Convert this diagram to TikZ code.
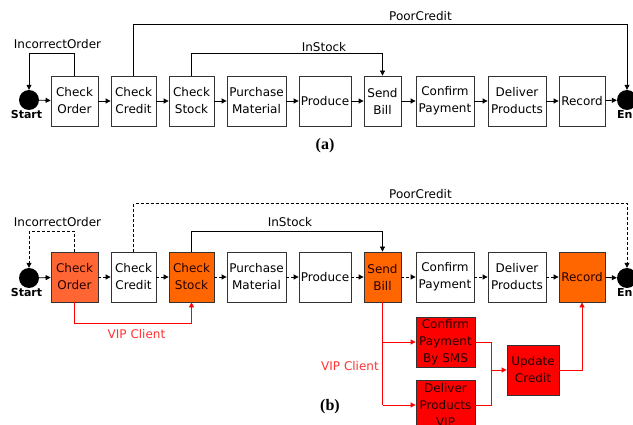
\documentclass[tikz,border=0pt]{standalone}
\usepackage{fontspec}
\setmainfont{DejaVu Sans}
\newfontfamily\serifbold{Liberation Serif}
\usetikzlibrary{arrows.meta}
\definecolor{boxline}{HTML}{333333}
\definecolor{tomatofill}{HTML}{FF6633}
\definecolor{orangefill}{HTML}{FF6600}
\definecolor{redfill}{HTML}{FF0000}
\definecolor{vipred}{HTML}{FF3333}
\begin{document}
\begin{tikzpicture}[x=1pt,y=-1pt,
  box/.style={draw=boxline, line width=0.8pt, minimum height=50pt, inner sep=0pt, align=center, font=\fontsize{12}{17}\selectfont},
  dot/.style={circle, fill=black, minimum size=20pt, inner sep=0pt},
  lbl/.style={font=\fontsize{12}{14}\selectfont, inner sep=0pt},
  endlbl/.style={font=\fontsize{11}{13}\selectfont\bfseries, inner sep=0pt},
  capt/.style={font=\fontsize{16}{18}\selectfont\serifbold\bfseries, inner sep=0pt},
  conn/.style={line width=0.8pt, -{Triangle[length=5pt,width=5pt]}},
  dconn/.style={conn, dash pattern=on 3pt off 2pt},
  line/.style={line width=0.8pt},
  dline/.style={line width=0.8pt, dash pattern=on 3pt off 2pt},
  rconn/.style={draw=red, line width=0.8pt, -{Triangle[length=5pt,width=5pt]}, red},
  rline/.style={draw=red, line width=0.8pt}
]
\useasboundingbox (0,0) rectangle (633,425);

%% ---------------- (a) ----------------
\node[dot] (sa) at (29,100) {};
\node[endlbl] (sal) at (26.5,114) {Start};
\node[dot] (ea) at (627,100) {};
\node[endlbl, anchor=west] (eal) at (617,114) {End};

\node[box, minimum width=47pt] (coa) at (74.5,101) {Check\\Order};
\node[box, minimum width=45pt] (cca) at (133.5,101) {Check\\Credit};
\node[box, minimum width=45pt] (csa) at (191.5,101) {Check\\Stock};
\node[box, minimum width=59pt] (pma) at (256.5,101) {Purchase\\Material};
\node[box, minimum width=52pt] (pra) at (325,101) {Produce};
\node[box, minimum width=37pt] (sba) at (382.5,101) {Send\\Bill};
\node[box, minimum width=58pt] (cpa) at (445,101) {Confirm\\Payment};
\node[box, minimum width=58pt] (dpa) at (517,101) {Deliver\\Products};
\node[box, minimum width=46pt] (rea) at (582,101) {Record};

\draw[conn] (sa) -- (coa);
\draw[conn] (coa) -- (cca);
\draw[conn] (cca) -- (csa);
\draw[conn] (csa) -- (pma);
\draw[conn] (pma) -- (pra);
\draw[conn] (pra) -- (sba);
\draw[conn] (sba) -- (cpa);
\draw[conn] (cpa) -- (dpa);
\draw[conn] (dpa) -- (rea);
\draw[conn] (rea) -- (ea);

\draw[conn] (coa.north) -- ++(0,-22) -| (sa.north);
\draw[conn] (cca.north) -- ++(0,-51) -| (ea.north);
\draw[conn] (csa.north) -- ++(0,-22) -| (sba.north);

\node[lbl] (ioa) at (57.5,44) {IncorrectOrder};
\node[lbl] (pca) at (420.5,16) {PoorCredit};
\node[lbl] (isa) at (324,47) {InStock};
\node[capt] (capa) at (325,146) {(a)};

%% ---------------- (b) ----------------
\node[dot] (sb) at (29,278) {};
\node[endlbl] (sbl) at (26.5,292) {Start};
\node[dot] (eb) at (627,278) {};
\node[endlbl, anchor=west] (ebl) at (617,292) {End};

\node[box, minimum width=47pt, fill=tomatofill, text=black!85!red] (cob) at (74.5,277) {Check\\Order};
\node[box, minimum width=45pt] (ccb) at (133.5,277) {Check\\Credit};
\node[box, minimum width=45pt, fill=orangefill, text=black!85!red] (csb) at (191.5,277) {Check\\Stock};
\node[box, minimum width=59pt] (pmb) at (256.5,277) {Purchase\\Material};
\node[box, minimum width=52pt] (prb) at (325,277) {Produce};
\node[box, minimum width=37pt, fill=orangefill, text=black!85!red] (sbb) at (382.5,277) {Send\\Bill};
\node[box, minimum width=58pt] (cpb) at (445,277) {Confirm\\Payment};
\node[box, minimum width=58pt] (dpb) at (517,277) {Deliver\\Products};
\node[box, minimum width=46pt, fill=orangefill, text=black!85!red] (reb) at (582,277) {Record};

\node[box, minimum width=59pt, fill=redfill, text=black!85!red] (sms) at (445.5,342) {Confirm\\Payment\\By SMS};
\node[box, minimum width=59pt, fill=redfill, text=black!85!red] (vip) at (445.5,405) {Deliver\\Products\\VIP};
\node[box, minimum width=52pt, fill=redfill, text=black!85!red] (upd) at (533,370) {Update\\Credit};

\draw[conn] (sb) -- (cob);
\draw[dconn] (cob) -- (ccb);
\draw[dconn] (ccb) -- (csb);
\draw[dconn] (csb) -- (pmb);
\draw[dconn] (pmb) -- (prb);
\draw[dconn] (prb) -- (sbb);
\draw[dconn] (sbb) -- (cpb);
\draw[dconn] (cpb) -- (dpb);
\draw[dconn] (dpb) -- (reb);
\draw[conn] (reb) -- (eb);

\draw[dconn] (cob.north) -- ++(0,-20) -| (sb.north);
\draw[dconn] (ccb.north) -- ++(0,-48) -| (eb.north);
\draw[conn] (csb.north) -- ++(0,-20) -| (sbb.north);

\node[lbl] (iob) at (57.5,222) {IncorrectOrder};
\node[lbl] (pcb) at (420.5,194) {PoorCredit};
\node[lbl] (isb) at (290,222) {InStock};

% VIP client path
\draw[rconn] (cob.south) -- ++(0,21) -| (csb.south);
\node[lbl, text=vipred] (vipl1) at (136.5,334) {VIP Client};

\coordinate (split) at (382.5,405);
\coordinate (merge) at (491,370);
\draw[rline] (sbb.south) -- (split);
\draw[rconn] (sbb.south |- sms.west) -- (sms.west);
\draw[rconn] (split) -- (vip.west);
\draw[rline] (sms.east) -| (merge);
\draw[rline] (vip.east) -| (merge);
\draw[rconn] (merge) -- (upd.west);
\draw[rconn] (upd.east) -| (reb.south);
\node[lbl, text=vipred] (vipl2) at (350,366) {VIP Client};

\node[capt] (capb) at (330,407) {(b)};
\end{tikzpicture}
\end{document}
